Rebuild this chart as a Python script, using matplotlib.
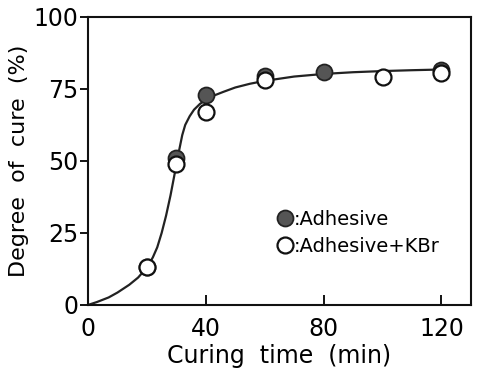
import numpy as np
import matplotlib
matplotlib.use('Agg')
import matplotlib.pyplot as plt

# measured points
t_adh = [20, 30, 40, 60, 80, 120]
cure_adh = [13, 51, 73, 79.5, 81, 81.5]
t_kbr = [20, 30, 40, 60, 100, 120]
cure_kbr = [13, 49, 67, 78, 79, 80.5]

# fitted curve
t_fit = [0, 3, 7, 10, 14, 17, 20, 22, 23.5, 25, 26.5, 28, 29.5, 31, 32, 33,
         34.5, 36, 38, 40, 43, 46, 50, 55, 60, 70, 80, 90, 100, 110, 122.5]
cure_fit = [0, 1, 2.6, 4.3, 7, 9.5, 13, 16.5, 20, 25, 31, 38, 46, 54, 59, 62.5,
            65.5, 67.8, 69.8, 71.2, 72.8, 74, 75.5, 76.8, 77.8, 79.3, 80.2, 80.8, 81.2, 81.5, 81.8]

fig = plt.figure(figsize=(4.81, 3.76), dpi=100)
ax = fig.add_axes([0.183, 0.189, 0.796, 0.766])

ax.plot(t_fit, cure_fit, color='#222222', lw=1.6, zorder=2)
ax.plot(t_adh, cure_adh, ls='None', marker='o', ms=11.5, mfc='#555555', mec='#222222',
        mew=1.3, zorder=3, label=':Adhesive')
ax.plot(t_kbr, cure_kbr, ls='None', marker='o', ms=11.5, mfc='white', mec='#111111',
        mew=1.6, zorder=4, label=':Adhesive+KBr')

ax.set_xlim(0, 130)
ax.set_ylim(0, 100)
ax.set_xticks([0, 40, 80, 120])
ax.set_yticks([0, 25, 50, 75, 100])
ax.tick_params(axis='x', direction='in', length=7, width=1.3, labelsize=17, pad=9)
ax.tick_params(axis='y', direction='out', length=6, width=1.3, labelsize=17, pad=1)
for s in ax.spines.values():
    s.set_linewidth(1.5)
    s.set_color('#111111')

ax.set_xlabel('Curing  time  (min)', fontsize=17, labelpad=2)
ax.set_ylabel('Degree  of  cure  (%)', fontsize=16, labelpad=3)

ax.legend(loc='upper left', bbox_to_anchor=(0.47, 0.365), frameon=False, fontsize=14,
          handlelength=0.8, handletextpad=0.05, labelspacing=0.45, borderpad=0)

fig.savefig('out.png', dpi=100)
